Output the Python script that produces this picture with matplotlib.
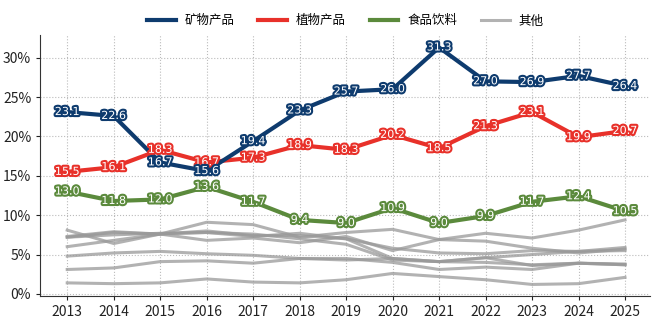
import numpy as np
import matplotlib.pyplot as plt
import matplotlib.patheffects as pe
from matplotlib.ticker import FuncFormatter

plt.rcParams['font.family'] = ['Noto Sans CJK SC', 'DejaVu Sans']

years = list(range(2013, 2026))

# 主要类别占比 (%)
mineral = [23.1, 22.6, 16.7, 15.6, 19.4, 23.3, 25.7, 26.0, 31.3, 27.0, 26.9, 27.7, 26.4]
plant = [15.5, 16.1, 18.3, 16.7, 17.3, 18.9, 18.3, 20.2, 18.5, 21.3, 23.1, 19.9, 20.7]
food = [13.0, 11.8, 12.0, 13.6, 11.7, 9.4, 9.0, 10.9, 9.0, 9.9, 11.7, 12.4, 10.5]

# 其他类别
others = [
    [1.4, 1.3, 1.4, 1.9, 1.5, 1.4, 1.8, 2.6, 2.2, 1.8, 1.2, 1.3, 2.1],
    [3.1, 3.3, 4.1, 4.2, 3.9, 4.5, 4.5, 4.0, 3.1, 3.4, 3.1, 3.9, 3.7],
    [4.8, 5.2, 5.4, 5.1, 4.9, 4.5, 4.3, 4.5, 4.1, 4.6, 3.6, 3.9, 3.8],
    [6.0, 6.8, 7.6, 8.0, 7.4, 7.4, 7.0, 5.8, 5.2, 5.1, 5.5, 5.4, 5.9],
    [7.2, 7.8, 7.6, 9.1, 8.8, 7.2, 7.8, 8.2, 6.9, 7.7, 7.1, 8.1, 9.4],
    [8.1, 6.4, 7.6, 6.8, 7.1, 6.5, 7.3, 5.5, 6.9, 6.7, 5.8, 5.2, 5.7],
    [7.2, 7.5, 7.7, 7.8, 7.3, 7.7, 7.0, 4.5, 4.1, 4.6, 5.0, 5.4, 5.5],
    [7.3, 7.9, 7.6, 7.8, 7.6, 7.0, 6.3, 4.3, 4.1, 4.0, 3.7, 3.9, 3.7],
]

fig = plt.figure(figsize=(6.6, 3.23), dpi=100)
ax = fig.add_axes([0.061, 0.084, 0.924, 0.808])

for i, s in enumerate(others):
    ax.plot(years, s, color='#999999', lw=2.2, alpha=0.75, zorder=2,
            label='其他' if i == 0 else None)

series = [
    ('矿物产品', mineral, '#0e3b6e'),
    ('植物产品', plant, '#e8312a'),
    ('食品饮料', food, '#5b8a3c'),
]
for name, vals, c in reversed(series):
    ax.plot(years, vals, color=c, lw=3, zorder=3, label=name)
    for x, v in zip(years, vals):
        ax.text(x, v, f'{v:.1f}', ha='center', va='center', fontsize=8,
                color='white', family='DejaVu Sans', zorder=4,
                path_effects=[pe.withStroke(linewidth=3, foreground=c)])

handles, labels = ax.get_legend_handles_labels()
order = ['矿物产品', '植物产品', '食品饮料', '其他']
hmap = dict(zip(labels, handles))
fig.legend([hmap[k] for k in order], order, loc='upper center', ncol=4,
           frameon=False, bbox_to_anchor=(0.523, 0.99), fontsize=9,
           handlelength=2.3, handletextpad=0.7, columnspacing=1.9)

ax.set_xlim(2012.42, 2025.54)
ax.set_ylim(-0.25, 32.9)
ax.set_xticks(years)
ax.set_yticks([0, 5, 10, 15, 20, 25, 30])
ax.yaxis.set_major_formatter(FuncFormatter(lambda v, p: f'{v:.0f}%'))
ax.tick_params(labelsize=10, length=3, colors='#222222')
ax.grid(True, ls=':', color='#bbbbbb', lw=0.8)
ax.spines[['top', 'right']].set_visible(False)
for s in ['left', 'bottom']:
    ax.spines[s].set_color('#333333')

fig.savefig('out.png', dpi=100)
